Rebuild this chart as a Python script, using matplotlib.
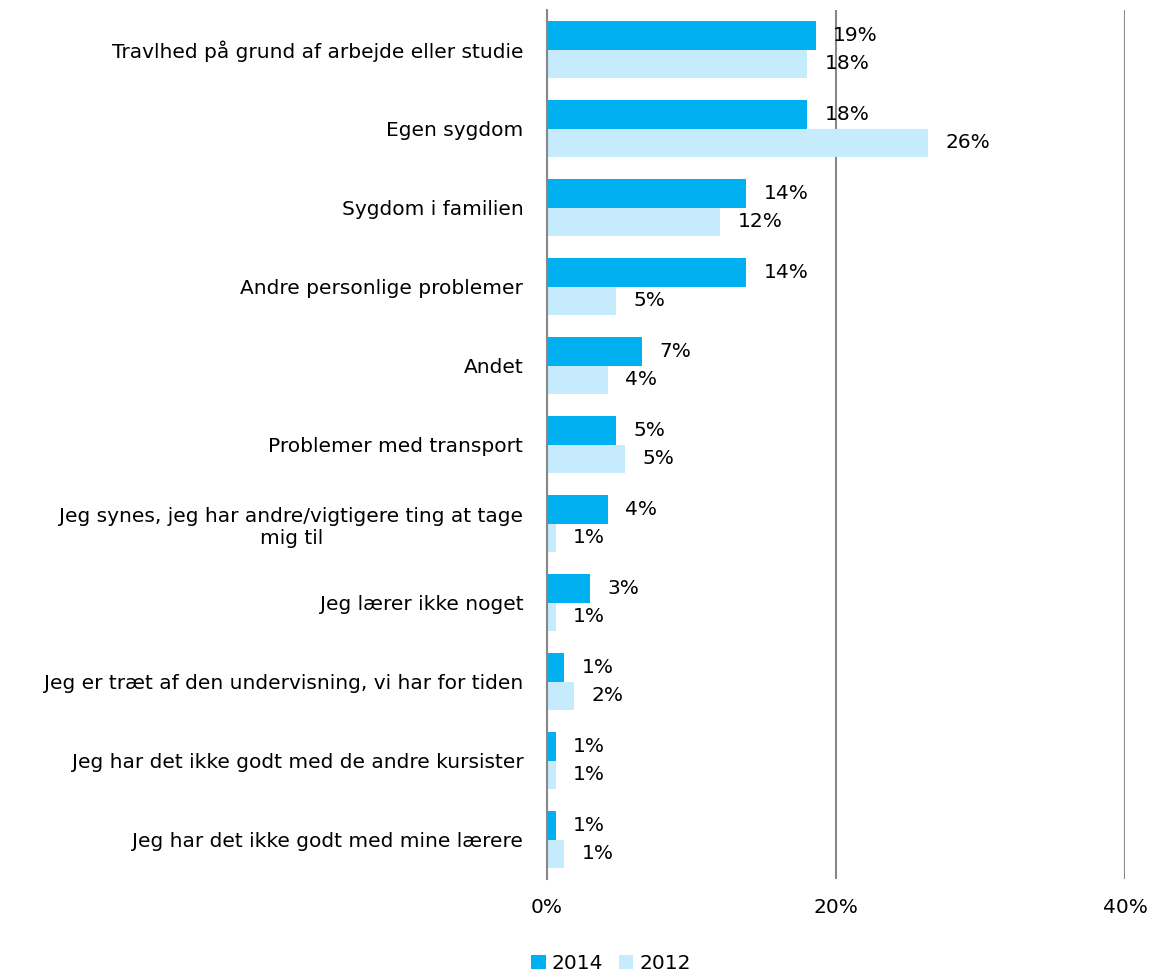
import matplotlib
matplotlib.use("Agg")
import matplotlib.pyplot as plt
import numpy as np

categories = [
    "Travlhed på grund af arbejde eller studie",
    "Egen sygdom",
    "Sygdom i familien",
    "Andre personlige problemer",
    "Andet",
    "Problemer med transport",
    "Jeg synes, jeg har andre/vigtigere ting at tage\nmig til",
    "Jeg lærer ikke noget",
    "Jeg er træt af den undervisning, vi har for tiden",
    "Jeg har det ikke godt med de andre kursister",
    "Jeg har det ikke godt med mine lærere",
]
values_2014 = [18.6, 18.0, 13.8, 13.8, 6.6, 4.8, 4.2, 3.0, 1.2, 0.6, 0.6]
values_2012 = [18.0, 26.4, 12.0, 4.8, 4.2, 5.4, 0.6, 0.6, 1.9, 0.6, 1.2]
labels_2014 = ["19%", "18%", "14%", "14%", "7%", "5%", "4%", "3%", "1%", "1%", "1%"]
labels_2012 = ["18%", "26%", "12%", "5%", "4%", "5%", "1%", "1%", "2%", "1%", "1%"]
series_names = ["2014", "2012"]
xticks = [0, 20, 40]
xtick_labels = ["0%", "20%", "40%"]

c2014 = "#00B0F0"
c2012 = "#C6EBFC"

plt.rcParams['font.family'] = ['DejaVu Sans']
fig = plt.figure(figsize=(11.51, 9.71), dpi=100)
ax = fig.add_axes([0.4752, 0.0947, 0.5022, 0.895])

n = len(categories)
y = np.arange(n)
h = 0.36
ax.barh(y - h / 2, values_2014, height=h, color=c2014, label=series_names[0], zorder=2)
ax.barh(y + h / 2, values_2012, height=h, color=c2012, label=series_names[1], zorder=2)

fs = 14.5
for i in range(n):
    ax.text(values_2014[i] + 1.2, y[i] - h / 2, labels_2014[i], va='center', ha='left', fontsize=fs, color='black', zorder=3)
    ax.text(values_2012[i] + 1.2, y[i] + h / 2, labels_2012[i], va='center', ha='left', fontsize=fs, color='black', zorder=3)

ax.set_ylim(n - 0.5, -0.5)
ax.set_xlim(0, 40)
ax.set_yticks(y)
ax.set_yticklabels(categories, fontsize=fs, multialignment='center')
ax.set_xticks(xticks)
ax.set_xticklabels(xtick_labels, fontsize=fs)
ax.tick_params(axis='both', length=0)
ax.tick_params(axis='y', pad=17)
ax.tick_params(axis='x', pad=14)

for s in ['top', 'right', 'bottom']:
    ax.spines[s].set_visible(False)
ax.spines['left'].set_color('#888888')
ax.spines['left'].set_linewidth(1.5)
ax.xaxis.grid(True, color='#888888', linewidth=1.5, zorder=0)
ax.set_axisbelow(True)

fig.legend(loc='lower center', bbox_to_anchor=(0.531, -0.021), ncol=2, frameon=False,
           fontsize=fs, handlelength=0.7, handleheight=0.7, handletextpad=0.3, columnspacing=0.8)

fig.savefig("out.png", dpi=100)
